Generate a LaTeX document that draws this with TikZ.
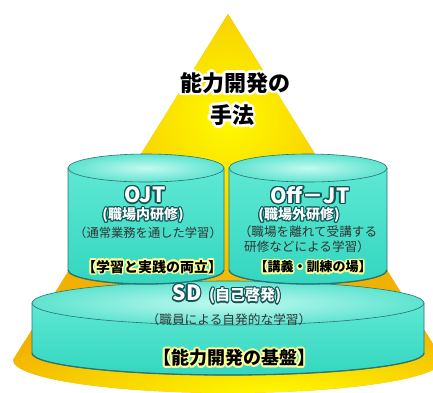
\documentclass[tikz,border=0pt]{standalone}
\usepackage{fontspec}
\newfontfamily\jp{Noto Sans CJK JP}
\usetikzlibrary{calc}
\definecolor{gold}{HTML}{F2B000}
\definecolor{brightyel}{HTML}{FFFA00}
\definecolor{cyledge}{HTML}{2C7373}
\definecolor{cyltopin}{HTML}{C2FAF0}
\definecolor{cyltopout}{HTML}{5EE3D0}
\definecolor{cylbodytop}{HTML}{5EE8D4}
\definecolor{cylbodymid}{HTML}{9CF5E8}
\definecolor{cylbodybot}{HTML}{33D6BF}
\definecolor{outlineteal}{HTML}{0E5656}
\definecolor{softyel}{HTML}{FFFF9A}
\definecolor{graytxt}{HTML}{333333}
\tikzset{
  lbl/.style={inner sep=0pt},
  cylbody/.style={top color=cylbodytop, middle color=cylbodymid, bottom color=cylbodybot, draw=cyledge, line width=0.6pt},
  cyltopface/.style={inner color=cyltopin, outer color=cyltopout, draw=cyledge, line width=0.6pt},
  cylrim/.style={draw=cyledge, line width=1.3pt},
}
% name, position, glow colour, radius, text colour, font, text
\newcommand\glowtxt[7]{%
  \foreach \a in {0,30,...,330}{\node[lbl,text=#3,font=#6] at ($(#2)+(\a:#4)$) {#7};}
  \node[lbl,text=#5,font=#6] (#1) at (#2) {#7};}
% cx, ytop, ybot, rx, ry
\newcommand\cyl[5]{%
  \shade[cylbody] (#1-#4,#2) -- (#1-#4,#3) arc[start angle=180,end angle=0,x radius=#4,y radius=#5] -- (#1+#4,#2) -- cycle;
  \draw[cylrim] (#1-#4,#3) arc[start angle=180,end angle=0,x radius=#4,y radius=#5];
  \shade[cyltopface] (#1,#2) ellipse[x radius=#4,y radius=#5];
}
\begin{document}
\begin{tikzpicture}[x=1pt,y=-1pt]
\useasboundingbox (0,0) rectangle (433,392);
\clip (0,0) rectangle (433,392);
% cone
\fill[gold] (228,14) -- (13,360) arc[start angle=180,end angle=0,x radius=215,y radius=33] -- cycle;
\begin{scope}
  \clip (228,14) -- (13,360) arc[start angle=180,end angle=0,x radius=215,y radius=33] -- cycle;
  \shade[inner color=brightyel, outer color=gold] (228,118) circle (190pt);
  \shade[inner color=brightyel, outer color=gold] (270,395) ellipse (330pt and 80pt);
\end{scope}
% SD base cylinder
\cyl{228}{303}{353}{196}{22}
% upper cylinders
\cyl{146}{168}{270}{78}{14}
\cyl{308}{168}{270}{79}{14}
% title
\glowtxt{t1o}{235,83}{white}{2.6pt}{white}{\jp\bfseries\fontsize{22}{22}\selectfont}{能力開発の}
\glowtxt{t1}{235,83}{white}{1.3pt}{black}{\jp\bfseries\fontsize{22}{22}\selectfont}{能力開発の}
\glowtxt{t2o}{232,115}{white}{2.6pt}{white}{\jp\bfseries\fontsize{22}{22}\selectfont}{手法}
\glowtxt{t2}{232,115}{white}{1.3pt}{black}{\jp\bfseries\fontsize{22}{22}\selectfont}{手法}
% OJT
\glowtxt{ojt}{145,195}{outlineteal}{1.3pt}{white}{\jp\bfseries\fontsize{21}{21}\selectfont}{OJT}
\glowtxt{ojts}{143,215}{outlineteal}{1.1pt}{white}{\jp\bfseries\fontsize{14}{14}\selectfont}{(職場内研修)}
\node[lbl,text=graytxt,font=\jp\fontsize{12.3}{13}\selectfont] (ojtd) at (148,233) {（通常業務を通した学習）};
\glowtxt{ojtb}{152,267}{softyel}{1.6pt}{black}{\jp\bfseries\fontsize{14}{14}\selectfont}{【学習と実践の両立】}
% Off-JT
\glowtxt{off}{310,195}{outlineteal}{1.3pt}{white}{\jp\bfseries\fontsize{21}{21}\selectfont}{Off－JT}
\glowtxt{offs}{299,215}{outlineteal}{1.1pt}{white}{\jp\bfseries\fontsize{14}{14}\selectfont}{(職場外研修)}
\node[lbl,text=graytxt,font=\jp\fontsize{12.6}{13}\selectfont] (offd1) at (308,232) {（職場を離れて受講する};
\node[lbl,text=graytxt,font=\jp\fontsize{12.6}{13}\selectfont] (offd2) at (307,247) {研修などによる学習）};
\glowtxt{offb}{313,267}{softyel}{1.6pt}{black}{\jp\bfseries\fontsize{13}{13}\selectfont}{【講義・訓練の場】}
% SD
\glowtxt{sd}{187,293}{outlineteal}{1.3pt}{white}{\jp\bfseries\fontsize{21}{21}\selectfont}{SD}
\glowtxt{sds}{245,296}{outlineteal}{1.1pt}{white}{\jp\bfseries\fontsize{15}{15}\selectfont}{(自己啓発)}
\node[lbl,text=graytxt,font=\jp\fontsize{12.7}{13}\selectfont] (sdd) at (229,320) {（職員による自発的な学習）};
\glowtxt{sdb}{234,358}{softyel}{2pt}{black}{\jp\bfseries\fontsize{18}{18}\selectfont}{【能力開発の基盤】}
\end{tikzpicture}
\end{document}
